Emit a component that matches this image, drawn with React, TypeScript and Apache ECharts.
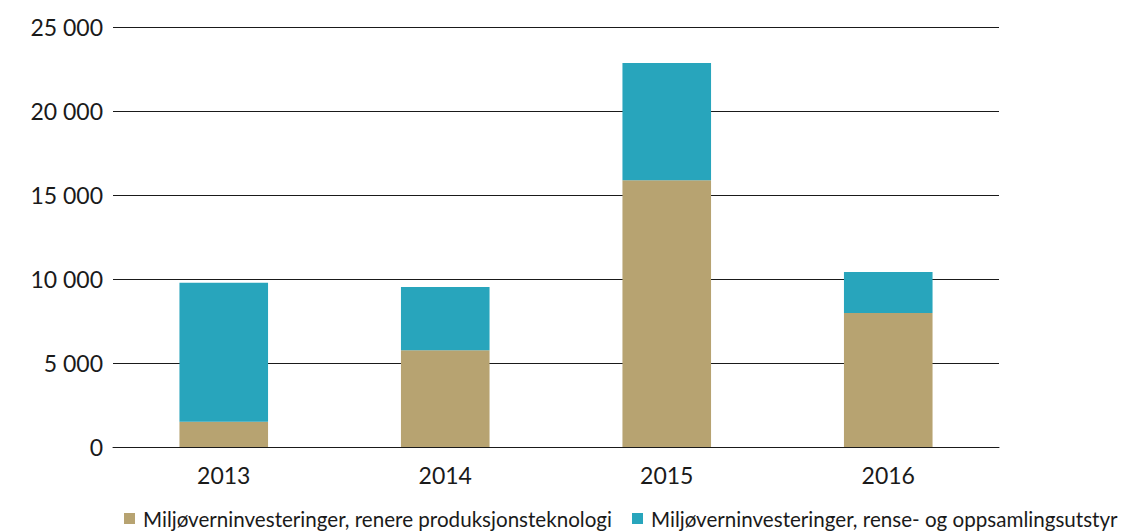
import React, { useEffect, useRef } from "react";
import * as echarts from "echarts";

const categories = ["2013", "2014", "2015", "2016"];
const seriesNames = [
  "Miljøverninvesteringer, renere produksjonsteknologi",
  "Miljøverninvesteringer, rense- og oppsamlingsutstyr",
];
const renereValues = [1510, 5760, 15880, 7970];
const renseValues = [8260, 3760, 6970, 2440];
const yTicks = [0, 5000, 10000, 15000, 20000, 25000];

const TAN = "#B7A371";
const TEAL = "#28A5BC";
const FONT = "Lato";

function fmt(v: number): string {
  const s = String(Math.round(v));
  return s.replace(/\B(?=(\d{3})+(?!\d))/g, " ");
}

export default function App() {
  const ref = useRef<HTMLDivElement>(null);
  useEffect(() => {
    if (!ref.current) return;
    const chart = echarts.init(ref.current, undefined, { renderer: "svg" });
    chart.setOption({
      animation: false,
      backgroundColor: "#ffffff",
      textStyle: { fontFamily: FONT },
      grid: { left: 113, right: 146, top: 27, bottom: 84, containLabel: false },
      legend: {
        left: 124,
        top: 508,
        padding: 0,
        itemWidth: 11,
        itemHeight: 11,
        itemGap: 20,
        icon: "rect",
        textStyle: { fontFamily: FONT, fontSize: 20.6, color: "#1a1a1a", padding: [0, 0, 0, 3] },
        data: seriesNames,
      },
      xAxis: {
        type: "category",
        data: categories,
        axisTick: { show: false },
        axisLine: { show: true, lineStyle: { color: "#1a1a1a", width: 1 } },
        axisLabel: { fontFamily: FONT, fontSize: 23, color: "#1a1a1a", margin: 16 },
      },
      yAxis: {
        type: "value",
        min: yTicks[0],
        max: yTicks[yTicks.length - 1],
        interval: 5000,
        axisLine: { show: false },
        axisTick: { show: false },
        splitLine: { show: true, lineStyle: { color: "#1a1a1a", width: 1 } },
        axisLabel: {
          fontFamily: FONT,
          fontSize: 23,
          color: "#1a1a1a",
          margin: 10,
          formatter: (v: number) => fmt(v),
        },
      },
      series: [
        {
          name: seriesNames[0],
          type: "bar",
          stack: "total",
          data: renereValues,
          barWidth: "40%",
          itemStyle: { color: TAN },
        },
        {
          name: seriesNames[1],
          type: "bar",
          stack: "total",
          data: renseValues,
          barWidth: "40%",
          itemStyle: { color: TEAL },
        },
      ],
    });
    return () => chart.dispose();
  }, []);
  return (
    <div
      ref={ref}
      style={{ position: "fixed", left: 0, top: 0, width: 1145, height: 531 }}
    />
  );
}
